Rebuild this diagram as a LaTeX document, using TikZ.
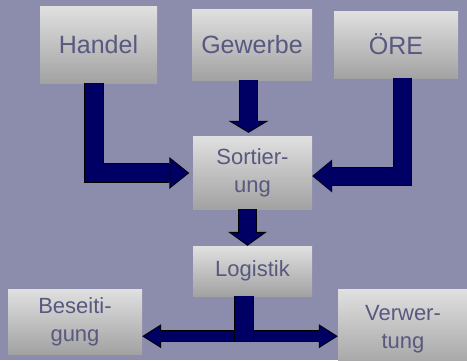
\documentclass[tikz,border=0pt]{standalone}
\usepackage{fontspec}
\setmainfont{Liberation Sans}
\usetikzlibrary{arrows.meta,calc,positioning}

\definecolor{backblue}{RGB}{140,140,172}
\definecolor{boxtop}{RGB}{224,224,224}
\definecolor{boxbottom}{RGB}{162,162,162}
\definecolor{boxtext}{RGB}{88,88,128}
\definecolor{arrowblue}{RGB}{0,0,100}

\tikzset{
	box/.style={rectangle, inner sep=0pt, top color=boxtop, bottom color=boxbottom, text=boxtext, align=center, font=\fontsize{22}{28}\selectfont},
	bigbox/.style={box, font=\fontsize{25}{30}\selectfont},
	rim/.style={draw=black, line width=#1},
	core/.style={draw=arrowblue, line width=#1},
}

\begin{document}
\begin{tikzpicture}[x=1pt, y=-1pt]
			% Draw the background
			\useasboundingbox (0,0) rectangle (467,360);
			\fill[backblue] (0,0) rectangle (467,360);
			\clip (0,0) rectangle (467,360);
			
			% Boxes
			\node[bigbox, minimum width=117pt, minimum height=77pt] (handel) at (98.5,44.5) {Handel};
			\node[bigbox, minimum width=120pt, minimum height=71pt] (gewerbe) at (252,44.5) {Gewerbe};
			\node[bigbox, minimum width=124pt, minimum height=67pt] (ore) at (396,44.5) {ÖRE};
			\node[box, minimum width=119pt, minimum height=73pt] (sort) at (252.5,172.5) {Sortier-\\ung};
			\node[box, minimum width=119pt, minimum height=50pt] (logistik) at (252.5,271) {Logistik};
			\node[box, minimum width=134pt, minimum height=65pt] (beseitigung) at (75,321.5) {Beseiti-\\gung};
			\node[box, minimum width=130pt, minimum height=80pt] (verwertung) at (403,329) {Verwer-\\tung};
			
			% Arrows into the sorting
			\coordinate (h1) at ($(handel.south)+(-5,0)$);
			\coordinate (h2) at ($(sort.west)+(0,0.5)$);
			\draw[rim=20pt, shorten >=3.5pt, -{Triangle[length=20pt,width=32pt,line width=0pt]}] (h1) |- (h2);
			\draw[core=18pt, shorten >=5.1pt, -{Triangle[length=17.4pt,width=27.8pt,line width=0pt]}] (h1) |- (h2);
			
			\coordinate (g1) at ($(gewerbe.south)+(-3.5,0)$);
			\draw[rim=19pt, shorten >=3pt, -{Triangle[length=12pt,width=40pt,line width=0pt]}] (g1) -- (g1 |- sort.north);
			\draw[core=17pt, shorten >=4.2pt, -{Triangle[length=9.8pt,width=32.8pt,line width=0pt]}] (g1) -- (g1 |- sort.north);
			
			\coordinate (o1) at ($(ore.south)+(6,0)$);
			\coordinate (o2) at ($(sort.east)+(0,3.5)$);
			\draw[rim=19pt, -{Triangle[length=20pt,width=33pt,line width=0pt]}] (o1) |- (o2);
			\draw[core=17pt, shorten >=1.6pt, -{Triangle[length=17.4pt,width=30.4pt,line width=0pt]}] (o1) |- (o2);
			
			% Sorting to logistics
			\coordinate (s1) at ($(sort.south)+(-5,0)$);
			\draw[rim=19pt, -{Triangle[length=14pt,width=39pt,line width=0pt]}] (s1) -- (s1 |- logistik.north);
			\draw[core=17pt, shorten >=1.2pt, -{Triangle[length=11.8pt,width=32.8pt,line width=0pt]}] (s1) -- (s1 |- logistik.north);
			
			% Logistics to both ends
			\coordinate (fork) at ($(logistik.south)+(-8.5,40)$);
			\draw[rim=12pt, {Triangle[length=19pt,width=24pt,line width=0pt]}-{Triangle[length=19pt,width=24pt,line width=0pt]}] (beseitigung.east |- fork) -- (verwertung.west |- fork);
			\draw[core=10pt, shorten <=1.9pt, shorten >=1.9pt, {Triangle[length=16.1pt,width=20.4pt,line width=0pt]}-{Triangle[length=16.1pt,width=20.4pt,line width=0pt]}] (beseitigung.east |- fork) -- (verwertung.west |- fork);
			\draw[rim=20pt, shorten >=-1pt] (logistik.south -| fork) -- ($(fork)+(0,5)$);
			\draw[core=18pt] (logistik.south -| fork) -- ($(fork)+(0,5)$);
\end{tikzpicture}
\end{document}
